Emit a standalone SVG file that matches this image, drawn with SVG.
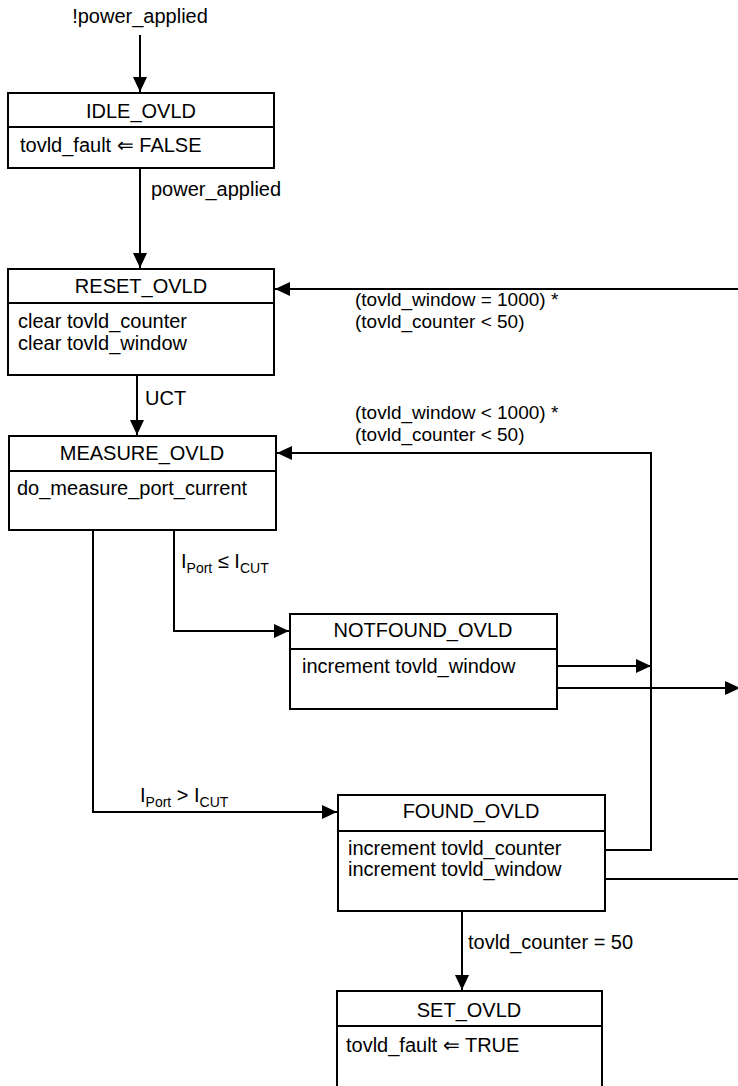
<svg xmlns="http://www.w3.org/2000/svg" width="738" height="1086" viewBox="0 0 738 1086">
<style>
text{font-family:"Liberation Sans",Arial,sans-serif;font-size:20px;fill:#000}
.t{text-anchor:middle}
.sub{font-size:14px}
.lbl{font-size:19px}
.box{fill:#fff;stroke:#000;stroke-width:2}
.ln{fill:none;stroke:#000;stroke-width:2}
</style>
<defs>
<marker id="ah" markerUnits="userSpaceOnUse" markerWidth="15" markerHeight="14" refX="15" refY="7" orient="auto">
<path d="M0,0 L15,7 L0,14 Z" fill="#000"/>
</marker>
</defs>
<rect width="738" height="1086" fill="#fff"/>
<g id="connectors">
<path class="ln" d="M140,35 V92" marker-end="url(#ah)"/>
<path class="ln" d="M140,168 V268" marker-end="url(#ah)"/>
<path class="ln" d="M137,375 V435" marker-end="url(#ah)"/>
<path class="ln" d="M738,289 H275" marker-end="url(#ah)"/>
<path class="ln" d="M605,850 H651 V453 H277" marker-end="url(#ah)"/>
<path class="ln" d="M174,530 V631 H289" marker-end="url(#ah)"/>
<path class="ln" d="M93,530 V812 H337" marker-end="url(#ah)"/>
<path class="ln" d="M557,666 H651" marker-end="url(#ah)"/>
<path class="ln" d="M557,688 H740" marker-end="url(#ah)"/>
<path class="ln" d="M605,879 H738"/>
<path class="ln" d="M462,911 V990" marker-end="url(#ah)"/>
<text x="140" y="23" class="t">!power_applied</text>
<text x="151" y="196">power_applied</text>
<text x="145" y="405">UCT</text>
<text x="355" y="306" class="lbl">(tovld_window = 1000) *</text>
<text x="355" y="328" class="lbl">(tovld_counter &lt; 50)</text>
<text x="355" y="419" class="lbl">(tovld_window &lt; 1000) *</text>
<text x="355" y="441" class="lbl">(tovld_counter &lt; 50)</text>
<text x="181" y="568">I<tspan class="sub" dy="5">Port</tspan><tspan dy="-5"> ≤ I</tspan><tspan class="sub" dy="5">CUT</tspan></text>
<text x="140" y="802">I<tspan class="sub" dy="5">Port</tspan><tspan dy="-5"> &gt; I</tspan><tspan class="sub" dy="5">CUT</tspan></text>
<text x="468" y="949">tovld_counter = 50</text>
</g>
<g id="IDLE_OVLD">
<rect class="box" x="8" y="93" width="266" height="75"/>
<line class="ln" x1="8" y1="127" x2="274" y2="127"/>
<text x="141" y="118" class="t">IDLE_OVLD</text>
<text x="20" y="152">tovld_fault ⇐ FALSE</text>
</g>
<g id="RESET_OVLD">
<rect class="box" x="8" y="269" width="266" height="106"/>
<line class="ln" x1="8" y1="303" x2="274" y2="303"/>
<text x="141" y="293" class="t">RESET_OVLD</text>
<text x="18" y="328">clear tovld_counter</text>
<text x="18" y="350">clear tovld_window</text>
</g>
<g id="MEASURE_OVLD">
<rect class="box" x="9" y="436" width="267" height="94"/>
<line class="ln" x1="9" y1="471" x2="276" y2="471"/>
<text x="142" y="460" class="t">MEASURE_OVLD</text>
<text x="17" y="495">do_measure_port_current</text>
</g>
<g id="NOTFOUND_OVLD">
<rect class="box" x="290" y="614" width="267" height="95"/>
<line class="ln" x1="290" y1="649" x2="557" y2="649"/>
<text x="423" y="637" class="t">NOTFOUND_OVLD</text>
<text x="302" y="673">increment tovld_window</text>
</g>
<g id="FOUND_OVLD">
<rect class="box" x="338" y="795" width="267" height="116"/>
<line class="ln" x1="338" y1="831" x2="605" y2="831"/>
<text x="471" y="818" class="t">FOUND_OVLD</text>
<text x="348" y="855">increment tovld_counter</text>
<text x="348" y="876">increment tovld_window</text>
</g>
<g id="SET_OVLD">
<rect class="box" x="337" y="991" width="265" height="110"/>
<line class="ln" x1="337" y1="1026" x2="602" y2="1026"/>
<text x="469" y="1017" class="t">SET_OVLD</text>
<text x="346" y="1052">tovld_fault ⇐ TRUE</text>
</g>
</svg>
